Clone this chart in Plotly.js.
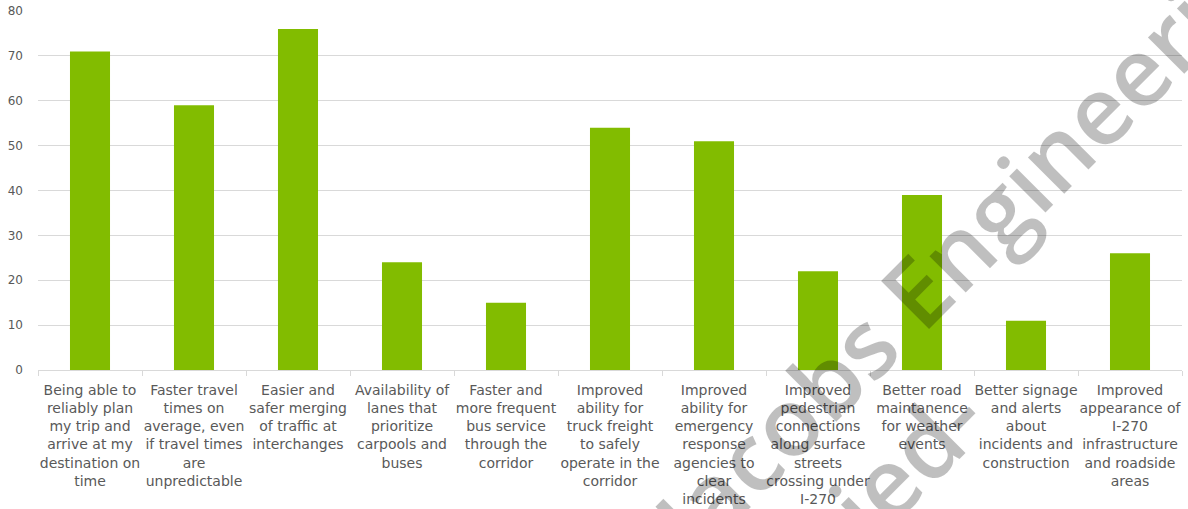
<!DOCTYPE html>
<html>
<head>
<meta charset="utf-8">
<script src="https://cdn.plot.ly/plotly-3.0.1.min.js"></script>
<style>
  html, body { margin: 0; padding: 0; background: #ffffff; }
  #chart { width: 1188px; height: 509px; }
</style>
</head>
<body>
<div id="chart"></div>
<script>
// ---- Data ----
const categories = [
  "Reliable trip", "Faster travel", "Safer merging", "Carpool lanes",
  "Bus service", "Truck freight", "Emergency response", "Pedestrian connections",
  "Road maintanence", "Signage and alerts", "Appearance"
];
const tickLabels = [
  "Being able to<br>reliably plan<br>my trip and<br>arrive at my<br>destination on<br>time",
  "Faster travel<br>times on<br>average, even<br>if travel times<br>are<br>unpredictable",
  "Easier and<br>safer merging<br>of traffic at<br>interchanges",
  "Availability of<br>lanes that<br>prioritize<br>carpools and<br>buses",
  "Faster and<br>more frequent<br>bus service<br>through the<br>corridor",
  "Improved<br>ability for<br>truck freight<br>to safely<br>operate in the<br>corridor",
  "Improved<br>ability for<br>emergency<br>response<br>agencies to<br>clear<br>incidents",
  "Improved<br>pedestrian<br>connections<br>along surface<br>streets<br>crossing under<br>I-270",
  "Better road<br>maintanence<br>for weather<br>events",
  "Better signage<br>and alerts<br>about<br>incidents and<br>construction",
  "Improved<br>appearance of<br>I-270<br>infrastructure<br>and roadside<br>areas"
];
const values = [71, 59, 76, 24, 15, 54, 51, 22, 39, 11, 26];
const yTicks = [0, 10, 20, 30, 40, 50, 60, 70, 80];
const watermarkMain = "Jacobs Engineering";
const watermarkSecond = "ied-";

const textColor = "#595959";
const gridColor = "#d9d9d9";
const barColor = "#82bc00";
const wmFont = { family: "Open Sans", size: 95, color: "rgba(0,0,0,0.25)", weight: 600 };

const trace = {
  type: "bar",
  x: categories,
  y: values,
  marker: { color: barColor, line: { width: 0 } },
  hoverinfo: "skip"
};

const layout = {
  width: 1188,
  height: 509,
  margin: { l: 38, r: 6, t: 11, b: 139, pad: 0 },
  paper_bgcolor: "#ffffff",
  plot_bgcolor: "#ffffff",
  showlegend: false,
  bargap: 0.615,
  font: { family: "DejaVu Sans", size: 14, color: textColor },
  xaxis: {
    type: "category",
    tickmode: "array",
    tickvals: categories,
    ticktext: tickLabels,
    tickangle: 0,
    automargin: false,
    showgrid: false,
    showline: true,
    linecolor: gridColor,
    linewidth: 1,
    ticks: "outside",
    tickson: "boundaries",
    ticklen: 5,
    tickcolor: gridColor,
    tickwidth: 1,
    ticklabelstandoff: 7,
    tickfont: { family: "DejaVu Sans", size: 14, color: textColor },
    fixedrange: true
  },
  yaxis: {
    range: [0, 80],
    tickmode: "array",
    tickvals: yTicks,
    automargin: false,
    showgrid: true,
    gridcolor: gridColor,
    gridwidth: 1,
    zeroline: false,
    showline: false,
    ticks: "",
    ticklabelstandoff: 14,
    tickfont: { family: "DejaVu Sans", size: 12, color: textColor },
    fixedrange: true
  },
  annotations: [
    {
      text: watermarkMain,
      xref: "paper", yref: "paper",
      x: 0.817, y: 0.382,
      xanchor: "center", yanchor: "middle",
      showarrow: false,
      textangle: -45,
      font: wmFont
    },
    {
      text: watermarkSecond,
      xref: "paper", yref: "paper",
      x: 0.759, y: -0.252,
      xanchor: "center", yanchor: "middle",
      showarrow: false,
      textangle: -45,
      font: wmFont
    }
  ]
};

Plotly.newPlot("chart", [trace], layout, { staticPlot: true, displayModeBar: false });
</script>
</body>
</html>
